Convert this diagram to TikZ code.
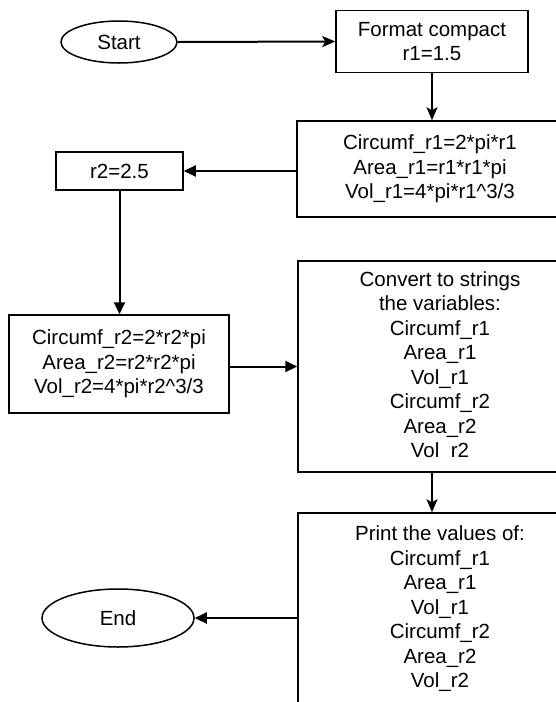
\documentclass[tikz,border=0pt]{standalone}
\usepackage{fontspec}
\setmainfont{Liberation Sans}
\usetikzlibrary{arrows.meta,shapes.geometric}
\tikzset{
  base/.style={draw=black, line width=1.5pt, align=center, inner sep=0pt,
    font=\fontsize{20.5}{24.5}\selectfont},
  proc/.style={base, rectangle},
  term/.style={base, ellipse},
  conn/.style={draw=black, line width=2pt},
  blk/.style={conn, -{Triangle[length=12pt,width=11pt]}},
  cls/.style={conn, -{Stealth[length=13pt,width=11pt,inset=3pt]}},
}
\begin{document}
\begin{tikzpicture}[x=1pt,y=-1pt]
\useasboundingbox (0,0) rectangle (556,702);
\clip (0,0) rectangle (556,702);
\node[term, minimum width=116pt, minimum height=42pt] (start) at (119,42) {Start};
\node[proc, minimum width=192pt, minimum height=61.6pt] (fmt) at (432,41.5) {Format compact\\r1=1.5};
\node[proc, minimum width=266pt, minimum height=96pt] (b1) at (430,169)
  {Circumf\_r1=2*pi*r1\\Area\_r1=r1*r1*pi\\Vol\_r1=4*pi*r1\textasciicircum3/3};
\node[proc, minimum width=127pt, minimum height=38pt] (r2) at (119.5,171) {r2=2.5};
\node[proc, minimum width=220pt, minimum height=98pt] (b2) at (119,364)
  {Circumf\_r2=2*r2*pi\\Area\_r2=r2*r2*pi\\Vol\_r2=4*pi*r2\textasciicircum3/3};
\node[proc, minimum width=284pt, minimum height=211pt] (conv) at (440,366.5)
  {Convert to strings\\the variables:\\Circumf\_r1\\Area\_r1\\Vol\_r1\\Circumf\_r2\\Area\_r2\\Vol\phantom{\_}r2};
\node[proc, minimum width=284pt, minimum height=192pt] (prn) at (440,609)
  {Print the values of:\\Circumf\_r1\\Area\_r1\\Vol\_r1\\Circumf\_r2\\Area\_r2\\Vol\_r2};
\node[term, minimum width=152pt, minimum height=58pt] (end) at (118,618) {End};
\coordinate (ax) at (432,0);
\draw[cls] (start.east) -- (fmt.west);
\draw[cls] (fmt.south) -- (fmt.south |- b1.north);
\draw[blk] (b1.west |- r2.east) -- (r2.east);
\draw[blk] (r2.south) -- (r2.south |- b2.north);
\draw[blk] (b2.east |- conv.west) -- (conv.west);
\draw[cls] (ax |- conv.south) -- (ax |- prn.north);
\draw[blk] (prn.west |- end.east) -- (end.east);
\end{tikzpicture}
\end{document}
